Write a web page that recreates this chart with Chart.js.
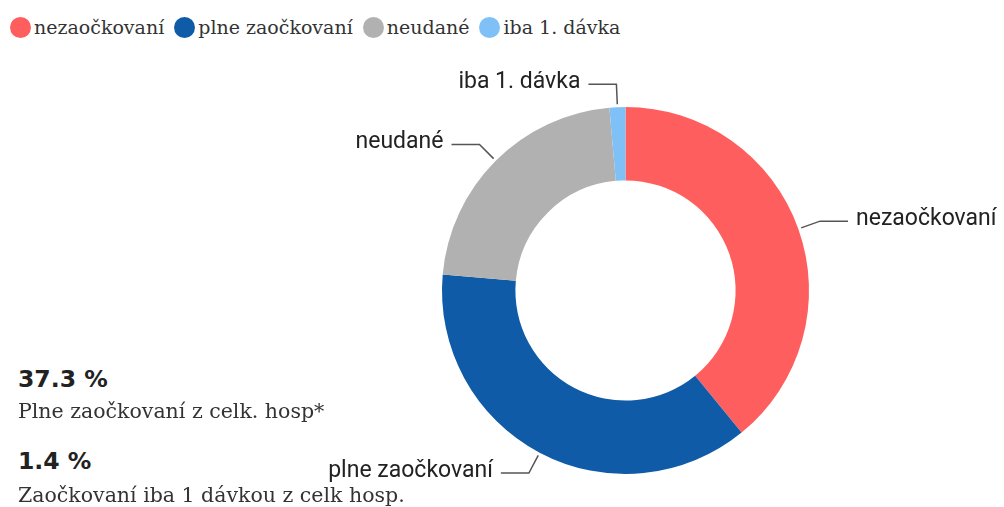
<!DOCTYPE html>
<html>
<head>
<meta charset="utf-8">
<script src="https://cdn.jsdelivr.net/npm/chart.js@4.4.1/dist/chart.umd.min.js"></script>
<style>
  body { margin: 0; background: #fff; width: 1004px; height: 507px; overflow: hidden; position: relative; }
  #legend { position: absolute; left: 10px; top: 14px; display: flex; font-family: 'DejaVu Serif', serif; font-size: 19px; line-height: 26px; color: #333; }
  #legend .item { display: flex; align-items: center; margin-right: 10px; }
  #legend .dot { width: 21px; height: 21px; border-radius: 50%; margin-right: 3px; }
  #wrap { position: absolute; left: 200px; top: 71px; width: 804px; height: 440px; }
  .big { position: absolute; left: 18px; font-family: 'DejaVu Sans', sans-serif; font-weight: bold; font-size: 23.5px; line-height: 23.5px; color: #222; white-space: nowrap; }
  .sub { position: absolute; left: 18px; font-family: 'DejaVu Serif', serif; font-size: 20.5px; line-height: 20.5px; color: #333; white-space: nowrap; }
</style>
</head>
<body>
<div id="legend"></div>
<div id="wrap"><canvas id="donut"></canvas></div>
<div class="big" style="top:368px">37.3 %</div>
<div class="sub" style="top:401px">Plne zaočkovaní z celk. hosp*</div>
<div class="big" style="top:450px">1.4 %</div>
<div class="sub" style="top:485px">Zaočkovaní iba 1 dávkou z celk hosp.</div>
<script>
const labels = ['nezaočkovaní', 'plne zaočkovaní', 'neudané', 'iba 1. dávka'];
const values = [39.1, 37.3, 22.2, 1.4];
const colors = ['#ff5e5e', '#0f5ba8', '#b1b1b1', '#7fc1f7'];

// legend
const legend = document.getElementById('legend');
labels.forEach((l, i) => {
    const item = document.createElement('div');
    item.className = 'item';
    item.innerHTML = '<span class="dot" style="background:' + colors[i] + '"></span>' + l;
    legend.appendChild(item);
});

const outerLabels = {
    id: 'outerLabels',
    afterDraw(chart) {
        const ctx = chart.ctx;
        const meta = chart.getDatasetMeta(0);
        ctx.save();
        ctx.font = '23px Roboto';
        ctx.textBaseline = 'middle';
        meta.data.forEach((arc, i) => {
            const mid = (arc.startAngle + arc.endAngle) / 2;
            const c = Math.cos(mid), s = Math.sin(mid);
            const r0 = arc.outerRadius + 3;
            const r1 = arc.outerRadius + 23;
            const x0 = arc.x + r0 * c, y0 = arc.y + r0 * s;
            const x1 = arc.x + r1 * c, y1 = arc.y + r1 * s;
            const right = c >= 0;
            const x2 = x1 + (right ? 28 : -28);
            ctx.strokeStyle = '#555';
            ctx.lineWidth = 1.5;
            ctx.beginPath();
            ctx.moveTo(x0, y0);
            ctx.lineTo(x1, y1);
            ctx.lineTo(x2, y1);
            ctx.stroke();
            ctx.fillStyle = '#222';
            ctx.textAlign = right ? 'left' : 'right';
            ctx.fillText(labels[i], x2 + (right ? 8 : -8), y1 - 2);
        });
        ctx.restore();
    }
};

new Chart(document.getElementById('donut'), {
    type: 'doughnut',
    data: {
        labels: labels,
        datasets: [{
            data: values,
            backgroundColor: colors,
            borderWidth: 0
        }]
    },
    options: {
        responsive: true,
        maintainAspectRatio: false,
        animation: false,
        cutout: '60%',
        layout: { padding: { top: 36, bottom: 37, left: 242, right: 195 } },
        plugins: {
            legend: { display: false },
            tooltip: { enabled: false }
        }
    },
    plugins: [outerLabels]
});
</script>
</body>
</html>
